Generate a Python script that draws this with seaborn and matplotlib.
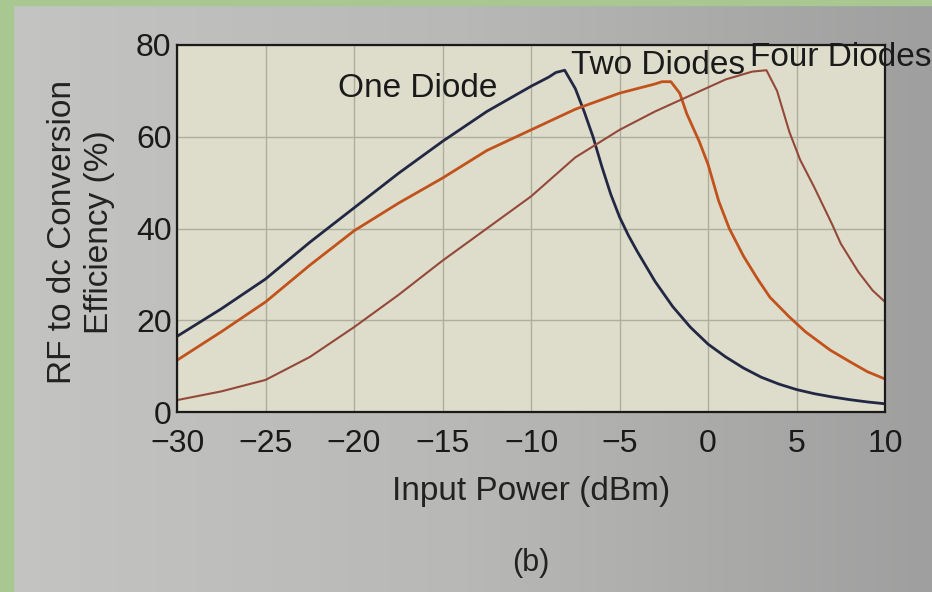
import numpy as np
import pandas as pd
import matplotlib
matplotlib.use("Agg")
import matplotlib.pyplot as plt
import seaborn as sns
from matplotlib.patches import Rectangle
from matplotlib.colors import LinearSegmentedColormap

# ---- data ----
one_x = [-30, -27.5, -25, -22.5, -20, -17.5, -15, -12.5, -10, -9, -8.6, -8.1, -7.5, -7, -6.5, -6, -5.5, -5,
         -4.5, -4, -3, -2, -1, 0, 1, 2, 3, 4, 5, 6, 7, 8, 9, 10]
one_y = [16.5, 22.5, 29, 37, 44.5, 52, 59, 65.5, 71, 73, 74, 74.5, 70.5, 65.5, 60, 53.5, 47.5, 42.5,
         38.5, 35, 28.5, 23, 18.5, 14.8, 12, 9.6, 7.6, 6.1, 4.9, 4.0, 3.3, 2.7, 2.2, 1.8]

two_x = [-30, -27.5, -25, -22.5, -20, -17.5, -15, -12.5, -10, -7.5, -5, -3, -2.6, -2.1, -1.6, -1.2, -0.5,
         0, 0.6, 1.2, 2, 2.8, 3.5, 4.6, 5.5, 6.9, 8, 9, 10]
two_y = [11.3, 17.5, 24, 32, 39.5, 45.5, 51, 57, 61.5, 66, 69.5, 71.5, 72, 72, 69.5, 65, 59,
         54, 46, 40, 34, 29, 25, 20.7, 17.5, 13.5, 11, 8.8, 7.2]

four_x = [-30, -27.5, -25, -22.5, -20, -17.5, -15, -12.5, -10, -7.5, -5, -3, -1, 1, 2.5, 3.3, 3.9, 4.6,
          5.2, 6, 7, 7.5, 8.5, 9.3, 10]
four_y = [2.6, 4.5, 7, 12, 18.5, 25.5, 33, 40, 47, 55.5, 61.5, 65.5, 69, 72.5, 74.2, 74.5, 70, 61,
          55, 49, 41, 36.7, 30.5, 26.5, 24]

series_names = ["One Diode", "Two Diodes", "Four Diodes"]
x_ticks = [-30, -25, -20, -15, -10, -5, 0, 5, 10]
y_ticks = [0, 20, 40, 60, 80]

df = pd.concat([
    pd.DataFrame({"x": one_x, "y": one_y, "s": series_names[0]}),
    pd.DataFrame({"x": two_x, "y": two_y, "s": series_names[1]}),
    pd.DataFrame({"x": four_x, "y": four_y, "s": series_names[2]}),
])

sns.set_style("white")
plt.rcParams["font.family"] = ["Liberation Sans", "DejaVu Sans"]

fig = plt.figure(figsize=(9.32, 5.92), dpi=100)

# photo-like background: gray page with a green border strip on the left/top
bg = fig.add_axes([0, 0, 1, 1], zorder=-10)
grad = np.linspace(0, 1, 256)[None, :]
cmap = LinearSegmentedColormap.from_list("pg", ["#c4c4c2", "#b8b8b6", "#9f9f9f"])
bg.imshow(grad, aspect="auto", cmap=cmap, extent=[0, 1, 0, 1])
bg.add_patch(Rectangle((0, 0), 0.014, 1, color="#a9c891", transform=bg.transAxes))
bg.add_patch(Rectangle((0, 0.992), 1, 0.008, color="#a9c891", transform=bg.transAxes))
bg.set_axis_off()

ax = fig.add_axes([0.19, 0.304, 0.7596, 0.62])
ax.set_facecolor("#deddcb")

palette = {"One Diode": "#222843", "Two Diodes": "#c1521c", "Four Diodes": "#94483a"}
sns.lineplot(data=df, x="x", y="y", hue="s", palette=palette, sort=False,
             estimator=None, ax=ax, legend=False, linewidth=1.8)
for line, lw in zip(ax.lines, [2.0, 2.0, 1.5]):
    line.set_linewidth(lw)

ax.set_xlim(-30, 10)
ax.set_ylim(0, 80)
ax.set_xticks(x_ticks)
ax.set_yticks(y_ticks)
ax.set_xticklabels([str(t).replace("-", "\u2212") for t in x_ticks])
ax.grid(True, color="#aeae9f", linewidth=1.0)
for sp in ax.spines.values():
    sp.set_color("#1a1a1a")
    sp.set_linewidth(1.6)
ax.tick_params(axis="both", direction="in", length=8, width=1.4, labelsize=23,
               colors="#1a1a1a", top=False, right=False)
ax.tick_params(axis="x", pad=12)
ax.tick_params(axis="y", pad=4)

ax.set_xlabel("Input Power (dBm)", fontsize=24, color="#222222")
ax.xaxis.set_label_coords(0.5, -0.175)
ax.set_ylabel("RF to dc Conversion\nEfficiency (%)", fontsize=24, color="#222222",
              linespacing=1.25)
ax.yaxis.set_label_coords(-0.087, 0.49)

ax.text(-16.4, 70.6, "One Diode", fontsize=24, color="#1a1a1a", ha="center", va="center")
ax.text(-2.8, 75.6, "Two Diodes", fontsize=24, color="#1a1a1a", ha="center", va="center")
ax.text(7.5, 77.3, "Four Diodes", fontsize=24, color="#1a1a1a", ha="center", va="center",
        clip_on=False)

fig.text(0.57, 0.049, "(b)", fontsize=22, color="#222222", ha="center", va="center")

fig.savefig("out.png", dpi=100)
